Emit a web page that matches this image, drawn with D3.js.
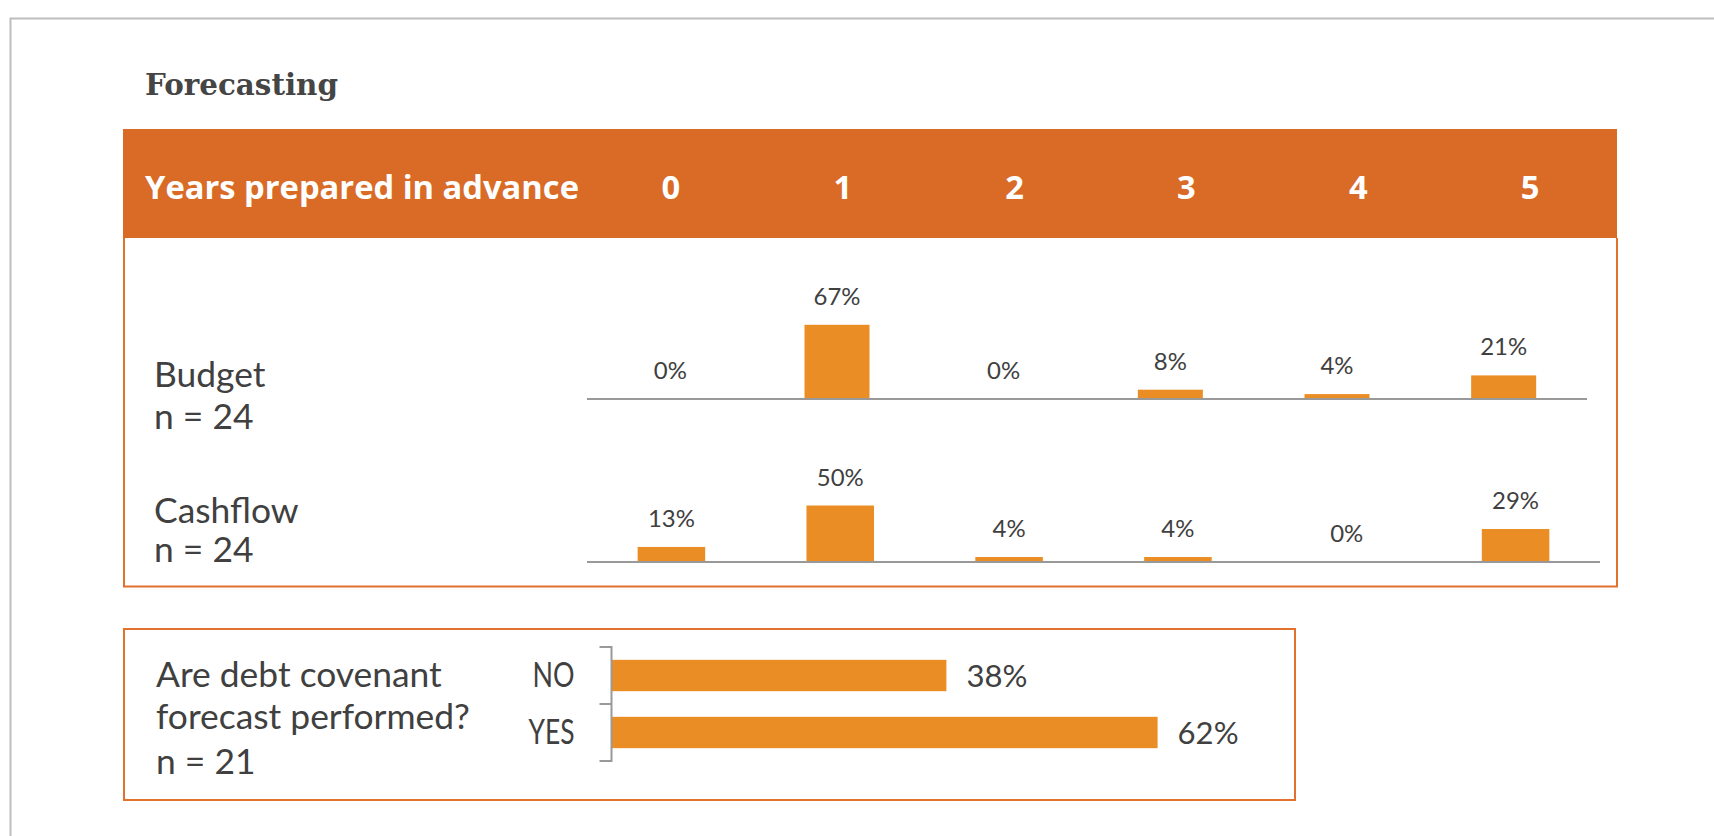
<!DOCTYPE html>
<html>
<head>
<meta charset="utf-8">
<script src="https://cdn.jsdelivr.net/npm/d3@7"></script>
<style>
  html, body { margin: 0; padding: 0; background: #fff; }
  svg { display: block; }
</style>
</head>
<body>
<svg id="chart" width="1714" height="836"></svg>
<script>
// ---- data ----
const title = "Forecasting";
const headerLabel = "Years prepared in advance";
const years = ["0", "1", "2", "3", "4", "5"];
const budgetValues = [0, 67, 0, 8, 4, 21];
const cashflowValues = [13, 50, 4, 4, 0, 29];
const rowLabels = [["Budget", "n = 24"], ["Cashflow", "n = 24"]];
const covenantQuestion = ["Are debt covenant", "forecast performed?", "n = 21"];
const covenantCategories = ["NO", "YES"];
const covenantValues = [38, 62];

// ---- styles ----
const ORANGE_HEAD = "#D96B27";
const ORANGE_LINE = "#E2712F";
const BAR = "#EA8D25";
const TEXT = "#404040";
const AXIS = "#999999";
const BODY_FONT = "Lato, 'Open Sans', sans-serif";
const CAT_LABEL_WIDTH = { NO: 42, YES: 46 };   // condensed category labels

const svg = d3.select("#chart");

// scale a text's font-size so its rendered width equals target
function fitSize(family, weight, sample, target, base = 100) {
  const t = svg.append("text")
    .attr("font-family", family).attr("font-weight", weight)
    .attr("font-size", base).text(sample);
  const w = t.node().getComputedTextLength();
  t.remove();
  return base * target / w;
}

const titleSize = fitSize("'DejaVu Serif', serif", 700, title, 193);
const headSize = fitSize("'Open Sans', sans-serif", 700, headerLabel, 434);
const rowSize = fitSize(BODY_FONT, 400, "forecast performed?", 314);
const pctSize = fitSize(BODY_FONT, 400, "67%", 47);
const bigPctSize = fitSize(BODY_FONT, 400, "38%", 61);

// outer page frame
svg.append("rect")
  .attr("x", 10.5).attr("y", 18.5).attr("width", 2000).attr("height", 2000)
  .attr("fill", "none").attr("stroke", "#bdbdbd").attr("stroke-width", 2);

// title
svg.append("text")
  .attr("x", 145).attr("y", 95)
  .attr("font-family", "'DejaVu Serif', serif").attr("font-weight", 700)
  .attr("font-size", titleSize).attr("fill", "#454545")
  .text(title);

// ---- top panel: header band ----
svg.append("rect")
  .attr("x", 123).attr("y", 129).attr("width", 1494).attr("height", 109)
  .attr("fill", ORANGE_HEAD);

svg.append("text")
  .attr("x", 145).attr("y", 199)
  .attr("font-family", "'Open Sans', sans-serif").attr("font-weight", 700)
  .attr("font-size", headSize).attr("fill", "#fff")
  .text(headerLabel);

const xHead = d3.scaleBand().domain(years).range([585, 1616]);
svg.append("g").selectAll("text").data(years).join("text")
  .attr("x", d => xHead(d) + xHead.bandwidth() / 2)
  .attr("y", 199)
  .attr("text-anchor", "middle")
  .attr("font-family", "'Open Sans', sans-serif").attr("font-weight", 700)
  .attr("font-size", headSize).attr("fill", "#fff")
  .text(d => d);

// panel body border
svg.append("path")
  .attr("d", "M124,238 V586.5 H1617 V238")
  .attr("fill", "none").attr("stroke", ORANGE_LINE).attr("stroke-width", 2);

// ---- column charts ----
function columnChart(values, opts) {
  const g = svg.append("g");
  const x = d3.scaleBand().domain(years).range(opts.range)
    .paddingInner(opts.pad).paddingOuter(opts.pad / 2);
  const y = d3.scaleLinear().domain([0, 100]).range([opts.base, opts.base - opts.pxPer100]);
  const data = years.map((k, i) => ({ k, v: values[i] }));

  g.selectAll("rect").data(data).join("rect")
    .attr("x", d => x(d.k))
    .attr("width", x.bandwidth())
    .attr("y", d => y(d.v))
    .attr("height", d => y(0) - y(d.v))
    .attr("fill", BAR);

  g.append("line")
    .attr("x1", opts.range[0]).attr("x2", opts.range[1])
    .attr("y1", opts.base + 0.5).attr("y2", opts.base + 0.5)
    .attr("stroke", AXIS).attr("stroke-width", 2.2);

  g.selectAll("text.val").data(data).join("text")
    .attr("class", "val")
    .attr("x", d => x(d.k) + x.bandwidth() / 2)
    .attr("y", d => y(d.v) - 20)
    .attr("text-anchor", "middle")
    .attr("font-family", BODY_FONT).attr("font-size", pctSize).attr("fill", TEXT)
    .text(d => d.v + "%");
}

columnChart(budgetValues, { range: [587, 1587], base: 398.5, pxPer100: 110, pad: 0.61 });
columnChart(cashflowValues, { range: [587, 1600], base: 561.5, pxPer100: 112, pad: 0.6 });

// row labels
const rowBaselines = [[386.7, 429], [523.3, 562]];
rowLabels.forEach((lines, r) => {
  lines.forEach((t, i) => {
    svg.append("text")
      .attr("x", 154).attr("y", rowBaselines[r][i])
      .attr("font-family", BODY_FONT).attr("font-size", rowSize).attr("fill", TEXT)
      .text(t);
  });
});

// ---- bottom panel: debt covenant bars ----
svg.append("rect")
  .attr("x", 124).attr("y", 629).attr("width", 1171).attr("height", 171)
  .attr("fill", "none").attr("stroke", ORANGE_LINE).attr("stroke-width", 2);

const qBaselines = [686.7, 729.3, 774.3];
covenantQuestion.forEach((t, i) => {
  svg.append("text")
    .attr("x", 156).attr("y", qBaselines[i])
    .attr("font-family", BODY_FONT).attr("font-size", rowSize).attr("fill", TEXT)
    .text(t);
});

const yCat = d3.scaleBand().domain(covenantCategories).range([647, 761]).paddingInner(0.45).paddingOuter(0.225);
const xCov = d3.scaleLinear().domain([0, 100]).range([612, 1492]);
const cov = covenantCategories.map((c, i) => ({ c, v: covenantValues[i] }));

const gc = svg.append("g");
gc.selectAll("rect").data(cov).join("rect")
  .attr("x", xCov(0))
  .attr("y", d => yCat(d.c))
  .attr("width", d => xCov(d.v) - xCov(0))
  .attr("height", yCat.bandwidth())
  .attr("fill", BAR);

// category axis with bracket-style ticks
const yAxis = d3.axisLeft(yCat).tickSize(0).tickPadding(37);
const axisG = gc.append("g").attr("transform", "translate(611.5,0)").call(yAxis);
axisG.select(".domain").attr("stroke", AXIS).attr("stroke-width", 2)
  .attr("d", "M-12,647H0V761H-12");
axisG.selectAll(".tick text")
  .attr("font-family", BODY_FONT).attr("font-size", rowSize * 0.97).attr("fill", TEXT)
  .attr("dy", null).attr("dominant-baseline", null)
  .attr("y", 11)
  .attr("textLength", d => CAT_LABEL_WIDTH[d])
  .attr("lengthAdjust", "spacingAndGlyphs");
// separator tick between the two categories
axisG.append("line")
  .attr("x1", -12).attr("x2", 0).attr("y1", 704).attr("y2", 704)
  .attr("stroke", AXIS).attr("stroke-width", 2);

gc.selectAll("text.val").data(cov).join("text")
  .attr("class", "val")
  .attr("x", d => xCov(d.v) + 20)
  .attr("y", d => yCat(d.c) + yCat.bandwidth() / 2 + 11)
  .attr("font-family", BODY_FONT).attr("font-size", bigPctSize).attr("fill", TEXT)
  .text(d => d.v + "%");
</script>
</body>
</html>
